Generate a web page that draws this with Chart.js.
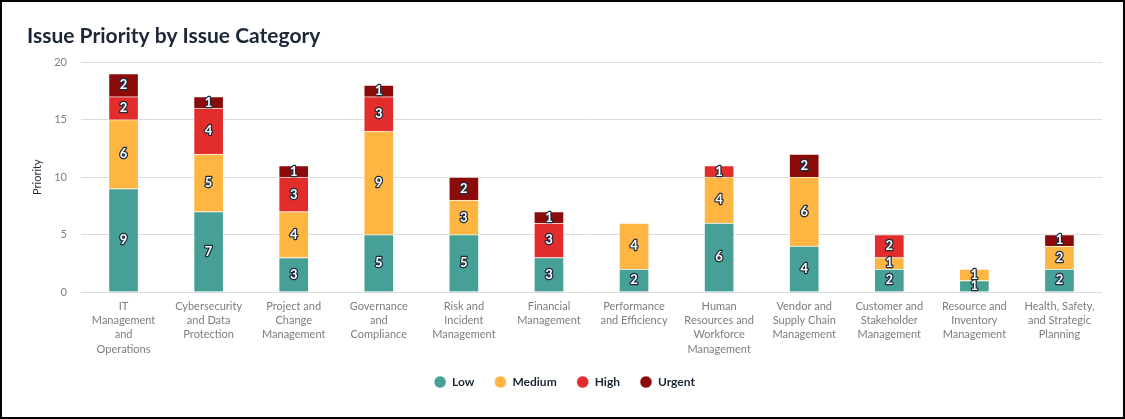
<!DOCTYPE html>
<html><head><meta charset="utf-8">
<script src="https://cdn.jsdelivr.net/npm/chart.js@4.4.0/dist/chart.umd.min.js"></script>
<style>
html,body{margin:0;padding:0;background:#fff;}
#wrap{width:1125px;height:419px;box-sizing:border-box;border:2px solid #000;position:relative;background:#fff;}
canvas{display:block;}
</style></head>
<body>
<div id="wrap"><canvas id="c" width="1121" height="415"></canvas></div>
<script>
const categories = [
  ["IT","Management","and","Operations"],
  ["Cybersecurity","and Data","Protection"],
  ["Project and","Change","Management"],
  ["Governance","and","Compliance"],
  ["Risk and","Incident","Management"],
  ["Financial","Management"],
  ["Performance","and Efficiency"],
  ["Human","Resources and","Workforce","Management"],
  ["Vendor and","Supply Chain","Management"],
  ["Customer and","Stakeholder","Management"],
  ["Resource and","Inventory","Management"],
  ["Health, Safety,","and Strategic","Planning"]
];
const low    = [9,7,3,5,5,3,2,6,4,2,1,2];
const medium = [6,5,4,9,3,0,4,4,6,1,1,2];
const high   = [2,4,3,3,0,3,0,1,0,2,0,0];
const urgent = [2,1,1,1,2,1,0,0,2,0,0,1];
const yTicks = [0,5,10,15,20];

const labelPlugin = {
  id:'barLabels',
  afterDatasetsDraw(chart){
    const ctx = chart.ctx;
    ctx.save();
    ctx.font = 'bold 13px Lato, sans-serif';
    ctx.textAlign='center';
    ctx.textBaseline='middle';
    ctx.lineJoin='round';
    chart.data.datasets.forEach((ds,i)=>{
      const meta = chart.getDatasetMeta(i);
      meta.data.forEach((el,j)=>{
        const v = ds.data[j];
        if(!v) return;
        const y = (el.y + el.base)/2;
        ctx.lineWidth=2.5;
        ctx.strokeStyle='#1d2b3a';
        ctx.strokeText(String(v), el.x, y);
        ctx.fillStyle='#fff';
        ctx.fillText(String(v), el.x, y);
      });
    });
    ctx.restore();
  }
};

const mk = (label,data,color)=>({label,data,backgroundColor:color,borderColor:'rgba(255,255,255,0.45)',borderWidth:1,barThickness:30});

new Chart(document.getElementById('c'),{
  type:'bar',
  data:{labels:categories,datasets:[
    mk('Low',low,'#46A095'),
    mk('Medium',medium,'#FFB541'),
    mk('High',high,'#E32D2D'),
    mk('Urgent',urgent,'#8B0B0B')
  ]},
  options:{
    responsive:false,animation:false,
    layout:{padding:{left:25,right:21,top:10,bottom:19}},
    plugins:{
      title:{display:true,text:'Issue Priority by Issue Category',align:'start',color:'#1b2636',
        font:{family:'Lato, sans-serif',size:21,weight:'bold'},padding:{top:12,bottom:13}},
      legend:{position:'bottom',labels:{usePointStyle:true,pointStyle:'circle',boxWidth:12,boxHeight:8.5,padding:20,
        color:'#1b2636',font:{family:'Lato, sans-serif',size:12,weight:'bold'}}},
      tooltip:{enabled:false}
    },
    scales:{
      x:{stacked:true,grid:{display:false,drawTicks:false},border:{display:false},
        afterFit(ax){ax.height=64;},
        ticks:{color:'#7d7d7d',font:{family:'Lato, sans-serif',size:11,lineHeight:1.3},maxRotation:0,autoSkip:false,padding:7}},
      y:{stacked:true,min:0,max:20,afterBuildTicks(ax){ax.ticks=yTicks.map(v=>({value:v}));},
        afterFit(ax){ax.width=54;},
        grid:{color:'#dcdcdc',drawTicks:false},border:{display:false},
        ticks:{color:'#7d7d7d',font:{family:'Lato, sans-serif',size:11},padding:14},
        title:{display:true,text:'Priority',color:'#1b2636',font:{family:'Lato, sans-serif',size:11},padding:{top:4,bottom:0}}}
    }
  },
  plugins:[labelPlugin]
});
</script>
</body></html>
